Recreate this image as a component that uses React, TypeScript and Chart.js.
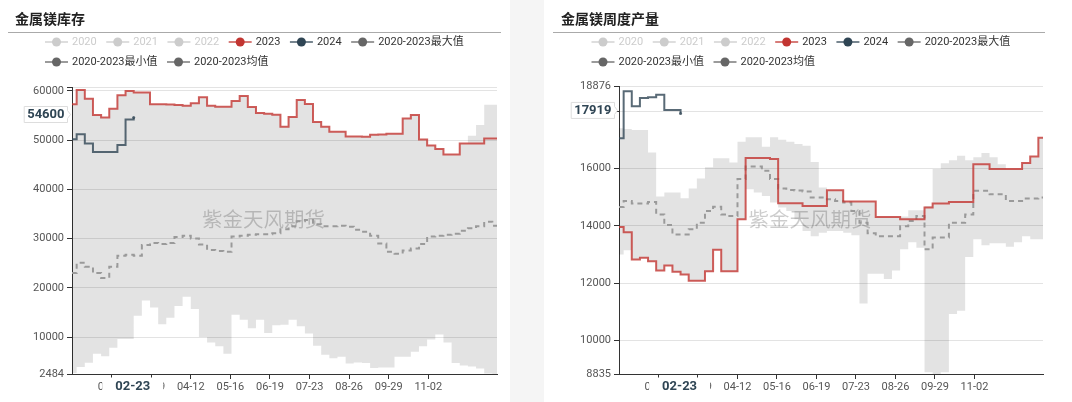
import React, { useEffect, useRef } from 'react';
import { Chart, registerables } from 'chart.js';

Chart.register(...registerables);

const FONT = 'Roboto, "Noto Sans CJK SC", sans-serif';
const CJK = '"Noto Sans CJK SC", sans-serif';

// ---- categories (weekly observation dates, month-day) ----
const weekDates = [
  '01-01', '01-05', '01-12', '01-19', '01-26', '02-02', '02-09', '02-16', '02-23', '03-01',
  '03-08', '03-15', '03-22', '03-29', '04-05', '04-12', '04-19', '04-26', '05-03', '05-10',
  '05-17', '05-24', '05-31', '06-07', '06-14', '06-21', '06-28', '07-05', '07-12', '07-19',
  '07-26', '08-02', '08-09', '08-16', '08-23', '08-30', '09-06', '09-13', '09-20', '09-27',
  '10-04', '10-11', '10-18', '10-25', '11-01', '11-08', '11-15', '11-22', '11-29', '12-06',
  '12-13', '12-20', '12-27', '12-31',
];

const xTickLabels = ['02-04', '03-09', '04-12', '05-16', '06-19', '07-23', '08-26', '09-29', '11-02'];
const pointerDate = '02-23';

const legendNames = ['2020', '2021', '2022', '2023', '2024', '2020-2023最大值', '2020-2023最小值', '2020-2023均值'];
const legendColors = ['#cccccc', '#cccccc', '#cccccc', '#c23531', '#2f4554', '#666666', '#666666', '#666666'];
const legendActive = [false, false, false, true, true, true, true, true];
const watermarkText = '紫金天风期货';

// ---- 金属镁库存 ----
const inv2023 = [
  57300, 60200, 58400, 55100, 54600, 56400, 59100, 60000, 59700, 59700,
  57300, 57300, 57250, 57150, 57000, 57500, 58700, 57000, 56800, 56800,
  57950, 58950, 56750, 55500, 55350, 55150, 52700, 54700, 58150, 57350,
  53700, 52700, 51700, 51700, 50750, 50750, 50700, 51100, 51150, 51300,
  51300, 54400, 55100, 50150, 48900, 48200, 47100, 47100, 49300, 49300,
  49300, 50350, 50350, 50350,
];
const inv2024 = [50200, 51200, 49300, 47600, 47600, 47600, 49000, 54200, 54600];
const invMax = [
  57300, 60200, 58400, 55100, 54600, 56400, 59100, 60000, 59700, 59700,
  57300, 57300, 57250, 57150, 57000, 57500, 58700, 57000, 56800, 56800,
  57950, 58950, 56750, 55500, 55350, 55150, 52700, 54700, 58150, 57350,
  53700, 52700, 51700, 51700, 50750, 50750, 50700, 51100, 51150, 51300,
  51300, 54400, 55100, 50150, 48900, 48200, 47100, 47100, 49300, 50900,
  53100, 57200, 57200, 57200,
];
const invMin = [
  2700, 3900, 4750, 6600, 6100, 7800, 9600, 9600, 14300, 17400,
  16000, 12600, 13900, 16300, 18200, 15700, 10000, 8900, 8100, 6600,
  14500, 13500, 11800, 13500, 10800, 12400, 12500, 13500, 12200, 10700,
  8200, 6400, 5700, 6000, 4600, 4800, 4700, 3700, 3800, 3800,
  6000, 6000, 7000, 8100, 9500, 10500, 8900, 4700, 4200, 4000,
  3600, 2600, 2484, 2484,
];
const invMean = [
  23000, 25100, 24300, 23000, 22000, 24300, 26500, 26700, 26500, 28700,
  29100, 28900, 29100, 30300, 30600, 30000, 28800, 27700, 27500, 27300,
  30400, 30600, 30800, 30900, 30900, 31100, 31900, 32500, 33500, 33800,
  32900, 32500, 32500, 32600, 32400, 31800, 31400, 30600, 29000, 27300,
  26900, 27600, 28000, 28900, 30400, 30600, 30800, 31000, 31600, 32100,
  32500, 33400, 32600, 32600,
];
const invYTicks = [2484, 10000, 20000, 30000, 40000, 50000, 60000, 60800];
const invHiddenTicks = [60800];
const invPointer = 54600;

// ---- 金属镁周度产量 ----
const prod2023 = [
  13960, 13780, 12830, 12890, 12770, 12440, 12620, 12400, 12300, 12090,
  12090, 12420, 13170, 12420, 12420, 14230, 16370, 16370, 16370, 16330,
  14790, 14790, 14790, 14690, 14690, 14690, 15240, 15240, 14850, 14850,
  14850, 14850, 14310, 14310, 14310, 14230, 14230, 14230, 14640, 14780,
  14780, 14830, 14830, 14830, 16150, 16150, 15980, 15980, 15980, 15980,
  16190, 16420, 17070, 17070,
];
const prod2024 = [17050, 18690, 18170, 18460, 18480, 18570, 18040, 18040, 17919];
const prodMax = [
  17400, 17380, 17340, 17340, 16560, 15020, 15160, 15160, 14960, 15300,
  15650, 16040, 16360, 16360, 16210, 16930, 17090, 17090, 16760, 17090,
  17000, 16930, 16850, 16790, 16230, 15340, 15240, 15240, 14850, 14850,
  14850, 14850, 14310, 14310, 14310, 14330, 14540, 14540, 14690, 15980,
  16180, 16290, 16440, 16290, 16390, 16540, 16390, 16150, 15980, 15980,
  16190, 16420, 17070, 17070,
];
const prodMin = [
  13000, 13150, 12830, 12890, 12770, 12440, 12620, 12400, 12300, 12090,
  12090, 12420, 13170, 12420, 12420, 14230, 15280, 15160, 15040, 14810,
  14640, 14520, 14230, 13820, 13640, 13760, 13820, 13820, 13760, 13670,
  11290, 12330, 12330, 12150, 12440, 13180, 13430, 13240, 8900, 8835,
  8900, 10930, 11040, 12910, 13530, 13320, 13390, 13390, 13270, 13430,
  13640, 13530, 13530, 13530,
];
const prodMean = [
  14660, 14870, 14780, 14780, 14830, 14400, 14030, 13700, 13700, 13880,
  14110, 14520, 14670, 14400, 14340, 15630, 16070, 16070, 15920, 15630,
  15300, 15250, 15230, 15200, 14990, 14990, 14930, 14870, 14810, 14520,
  14110, 13740, 13640, 13640, 13640, 13990, 14170, 14340, 13180, 13590,
  13590, 14110, 14110, 14400, 15220, 15220, 15100, 15100, 14870, 14870,
  14950, 14950, 14990, 14990,
];
const prodYTicks = [8835, 10000, 12000, 14000, 16000, 18000, 18876];
const prodHiddenTicks: number[] = [];
const prodPointer = 17919;

// ---- helpers ----
const MONTH_DAYS = [31, 29, 31, 30, 31, 30, 31, 31, 30, 31, 30, 31];
function dayOfYear(md: string): number {
  const [m, d] = md.split('-').map(Number);
  let n = d - 1;
  for (let i = 0; i < m - 1; i++) n += MONTH_DAYS[i];
  return n;
}
function labelForDay(v: number): string {
  const found = xTickLabels.find((l) => dayOfYear(l) === v);
  return found || '';
}
function toPoints(values: number[]) {
  return values.map((v, i) => ({ x: dayOfYear(weekDates[i]), y: v }));
}

function drawLegendIcon(ctx: CanvasRenderingContext2D, x: number, y: number, color: string) {
  ctx.save();
  ctx.globalAlpha = 0.65;
  ctx.strokeStyle = color;
  ctx.lineWidth = 2;
  ctx.beginPath();
  ctx.moveTo(x, y);
  ctx.lineTo(x + 23, y);
  ctx.stroke();
  ctx.globalAlpha = 1;
  ctx.fillStyle = color;
  ctx.beginPath();
  ctx.arc(x + 11.5, y, 4.5, 0, Math.PI * 2);
  ctx.fill();
  ctx.restore();
}

interface PanelSpec {
  title: string;
  left: number;
  width: number;
  padding: { left: number; right: number; top: number; bottom: number };
  titleX: number;
  lineX0: number;
  lineX1: number;
  legendX: number;
  yMin: number;
  yMax: number;
  yTicks: number[];
  hiddenTicks: number[];
  s2023: number[];
  s2024: number[];
  sMax: number[];
  sMin: number[];
  sMean: number[];
  pointer: number;
}

function makePlugin(p: PanelSpec) {
  return {
    id: 'decor',
    beforeDatasetsDraw(chart: any) {
      const { ctx, chartArea } = chart;
      const cx = (chartArea.left + chartArea.right) / 2 - 21;
      const cy = (chartArea.top + chartArea.bottom) / 2 - 11;
      ctx.save();
      ctx.font = `20.5px ${CJK}`;
      ctx.fillStyle = 'rgba(0,0,0,0.2)';
      ctx.textAlign = 'center';
      ctx.textBaseline = 'middle';
      ctx.fillText(watermarkText, cx, cy);
      ctx.restore();
    },
    afterDraw(chart: any) {
      const { ctx, chartArea } = chart;
      ctx.save();
      // title
      ctx.font = `bold 14px ${CJK}`;
      ctx.fillStyle = '#222';
      ctx.textAlign = 'left';
      ctx.textBaseline = 'middle';
      ctx.fillText(p.title, p.titleX, 19);
      // underline
      ctx.strokeStyle = '#aaaaaa';
      ctx.lineWidth = 1;
      ctx.beginPath();
      ctx.moveTo(p.lineX0, 32.5);
      ctx.lineTo(p.lineX1, 32.5);
      ctx.stroke();
      // legend
      ctx.font = `11px ${FONT}`;
      let x = p.legendX;
      let y = 42;
      legendNames.forEach((name, i) => {
        const tw = ctx.measureText(name).width;
        if (x + 27 + tw > p.lineX1) {
          x = p.legendX;
          y += 20;
        }
        drawLegendIcon(ctx, x, y, legendColors[i]);
        ctx.fillStyle = legendActive[i] ? '#333' : '#cccccc';
        ctx.textAlign = 'left';
        ctx.textBaseline = 'middle';
        ctx.fillText(name, x + 27, y + 0.5);
        x += 27 + tw + 9.5;
      });
      // x axis pointer label
      const xs = chart.scales.x;
      const ys = chart.scales.y;
      const px = xs.getPixelForValue(dayOfYear(pointerDate));
      ctx.font = `bold 13px ${FONT}`;
      const xw = ctx.measureText(pointerDate).width + 26;
      ctx.fillStyle = '#ffffff';
      ctx.fillRect(px - xw / 2 - 1, chartArea.bottom + 3.5, xw, 19);
      ctx.fillStyle = '#2f4554';
      ctx.textAlign = 'center';
      ctx.textBaseline = 'middle';
      ctx.fillText(pointerDate, px - 1, chartArea.bottom + 12.5);
      // y axis pointer label
      const py = ys.getPixelForValue(p.pointer) - 3;
      const label = String(p.pointer);
      const tw = ctx.measureText(label).width;
      const tip = chartArea.left - 1.5;
      const r = tip - 3;
      const l = r - tw - 6;
      ctx.beginPath();
      ctx.moveTo(l, py - 8);
      ctx.lineTo(r, py - 8);
      ctx.lineTo(r, py - 4);
      ctx.lineTo(tip, py);
      ctx.lineTo(r, py + 4);
      ctx.lineTo(r, py + 8);
      ctx.lineTo(l, py + 8);
      ctx.closePath();
      ctx.fillStyle = '#ffffff';
      ctx.fill();
      ctx.strokeStyle = '#dddddd';
      ctx.lineWidth = 1;
      ctx.stroke();
      ctx.fillStyle = '#2f4554';
      ctx.textAlign = 'center';
      ctx.fillText(label, (l + r) / 2, py + 0.5);
      ctx.restore();
    },
  };
}

function buildConfig(p: PanelSpec): any {
  const last2024 = p.s2024.length - 1;
  return {
    type: 'line',
    data: {
      datasets: [
        {
          label: '2023',
          data: toPoints(p.s2023),
          borderColor: 'rgba(194,53,49,0.8)',
          borderWidth: 2,
          pointRadius: 0,
          stepped: true,
          fill: false,
        },
        {
          label: '2024',
          data: toPoints(p.s2024),
          borderColor: 'rgba(47,69,84,0.8)',
          backgroundColor: 'rgba(47,69,84,0.8)',
          borderWidth: 2,
          pointRadius: (c: any) => (c.dataIndex === last2024 ? 1.5 : 0),
          pointBorderWidth: 0,
          stepped: true,
          fill: false,
        },
        {
          label: '2020-2023均值',
          data: toPoints(p.sMean),
          borderColor: '#9a9a9a',
          borderWidth: 2,
          borderDash: [5, 4],
          pointRadius: 0,
          stepped: true,
          fill: false,
        },
        {
          label: '2020-2023最大值',
          data: toPoints(p.sMax),
          borderColor: 'rgba(0,0,0,0)',
          borderWidth: 0,
          backgroundColor: 'rgba(0,0,0,0.11)',
          pointRadius: 0,
          stepped: true,
          fill: '+1',
        },
        {
          label: '2020-2023最小值',
          data: toPoints(p.sMin),
          borderColor: 'rgba(0,0,0,0)',
          borderWidth: 0,
          pointRadius: 0,
          stepped: true,
          fill: false,
        },
        { label: '2020', data: [], hidden: true },
        { label: '2021', data: [], hidden: true },
        { label: '2022', data: [], hidden: true },
      ],
    },
    options: {
      responsive: false,
      animation: false,
      events: [],
      devicePixelRatio: 1,
      layout: { padding: p.padding },
      plugins: {
        legend: { display: false },
        tooltip: { enabled: false },
        title: { display: false },
      },
      scales: {
        x: {
          type: 'linear',
          min: 0,
          max: 365,
          afterBuildTicks: (s: any) => {
            s.ticks = xTickLabels.map((l) => ({ value: dayOfYear(l) }));
          },
          afterFit: (s: any) => {
            s.height = 22;
          },
          ticks: {
            autoSkip: false,
            maxRotation: 0,
            padding: 2,
            color: '#555',
            font: { size: 11, family: FONT },
            callback: (v: number) => labelForDay(v),
          },
          grid: { display: true, drawOnChartArea: false, drawTicks: true, tickLength: 5, tickColor: '#333' },
          border: { display: true, color: '#333', width: 1 },
        },
        y: {
          type: 'linear',
          min: p.yMin,
          max: p.yMax,
          afterBuildTicks: (s: any) => {
            s.ticks = p.yTicks.map((v) => ({ value: v }));
          },
          afterFit: (s: any) => {
            s.width = 40;
          },
          ticks: {
            autoSkip: false,
            padding: 3,
            color: '#555',
            font: { size: 11, family: FONT },
            callback: (v: number) => (p.hiddenTicks.includes(v) ? '' : String(v)),
          },
          grid: { color: '#e3e3e3', tickColor: '#333', tickLength: 5, drawTicks: true },
          border: { display: true, color: '#333', width: 1 },
        },
      },
    },
    plugins: [makePlugin(p)],
  };
}

const inventorySpec: PanelSpec = {
  title: '金属镁库存',
  left: 0,
  width: 510,
  padding: { left: 32, right: 13, top: 87, bottom: 6 },
  titleX: 15,
  lineX0: 8,
  lineX1: 501,
  legendX: 45,
  yMin: 2484,
  yMax: 60800,
  yTicks: invYTicks,
  hiddenTicks: invHiddenTicks,
  s2023: inv2023,
  s2024: inv2024,
  sMax: invMax,
  sMin: invMin,
  sMean: invMean,
  pointer: invPointer,
};

const productionSpec: PanelSpec = {
  title: '金属镁周度产量',
  left: 544,
  width: 528,
  padding: { left: 35, right: 29, top: 86, bottom: 6 },
  titleX: 17,
  lineX0: 9,
  lineX1: 501,
  legendX: 47.5,
  yMin: 8835,
  yMax: 18876,
  yTicks: prodYTicks,
  hiddenTicks: prodHiddenTicks,
  s2023: prod2023,
  s2024: prod2024,
  sMax: prodMax,
  sMin: prodMin,
  sMean: prodMean,
  pointer: prodPointer,
};

function ChartPanel({ spec }: { spec: PanelSpec }) {
  const ref = useRef<HTMLCanvasElement | null>(null);
  useEffect(() => {
    if (!ref.current) return;
    const chart = new Chart(ref.current, buildConfig(spec));
    return () => chart.destroy();
  }, [spec]);
  return (
    <canvas
      ref={ref}
      width={spec.width}
      height={402}
      style={{ position: 'fixed', left: spec.left, top: 0, width: spec.width, height: 402, display: 'block' }}
    />
  );
}

export default function App() {
  return (
    <div>
      <div style={{ position: 'fixed', left: 510, top: 0, width: 34, height: 402, background: '#f5f5f5' }} />
      <ChartPanel spec={inventorySpec} />
      <ChartPanel spec={productionSpec} />
    </div>
  );
}
